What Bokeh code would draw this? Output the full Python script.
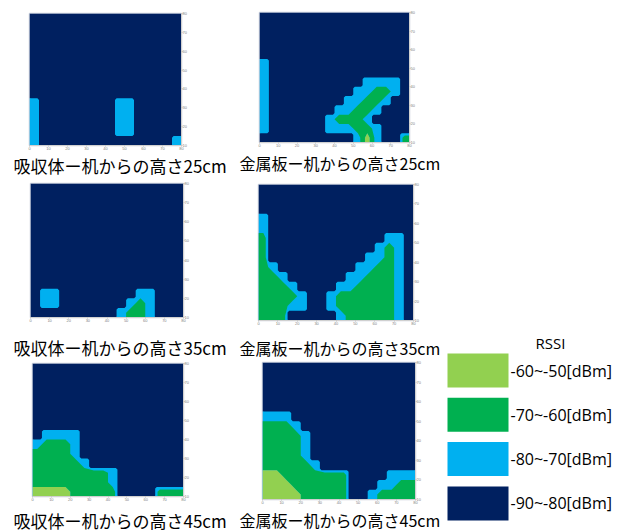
import numpy as np
from bokeh.plotting import figure
from bokeh.layouts import row, column
from bokeh.models import Range1d, FixedTicker
from bokeh.core.properties import value
from bokeh.embed import file_html
from bokeh.resources import INLINE

# ---------------- data ----------------
levels = [-90, -80, -70, -60, -50]
band_colors = ["#002060", "#00B0F0", "#00B050", "#92D050"]
legend_title = "RSSI"
legend_labels = ["-60~-50[dBm]", "-70~-60[dBm]", "-80~-70[dBm]", "-90~-80[dBm]"]
legend_colors = ["#92D050", "#00B050", "#00B0F0", "#002060"]

# representative RSSI [dBm] for each 5cm x 5cm measurement cell class
cell_rssi = {".": -85, "b": -75, "g": -65, "l": -55}
x_extent = [0, 80]
y_extent = [10, 80]
cell_size = 5
x_ticks = [0, 10, 20, 30, 40, 50, 60, 70, 80]
y_ticks = [10, 20, 30, 40, 50, 60, 70, 80]

titles = [
    "吸収体ー机からの高さ25cm", "金属板ー机からの高さ25cm",
    "吸収体ー机からの高さ35cm", "金属板ー机からの高さ35cm",
    "吸収体ー机からの高さ45cm", "金属板ー机からの高さ45cm",
]

# rows listed from y=80 (top) down to y=10; columns x=0..80
absorber_25 = [
    "................",
    "................",
    "................",
    "................",
    "................",
    "................",
    "................",
    "................",
    "................",
    "b........bb.....",
    "b........bb.....",
    "b........bb.....",
    "b........bb.....",
    "b..............b",
]
metal_25 = [
    "................",
    "................",
    "................",
    "................",
    "................",
    "b...............",
    "b...............",
    "b..........bbbb.",
    "b.........bbggb.",
    "b........bbggb..",
    "b.......bbggb...",
    "b......bgggb....",
    "b......bbbggb...",
    "..........blb..g",
]
absorber_35 = [
    "................",
    "................",
    "................",
    "................",
    "................",
    "................",
    "................",
    "................",
    "................",
    "................",
    "................",
    ".bb........bb...",
    ".bb.......bgb...",
    ".........bggb...",
]
metal_35 = [
    "................",
    "................",
    "................",
    "b...............",
    "b...............",
    "g............bb.",
    "g...........bgb.",
    "g..........bbgb.",
    "gb........bbggb.",
    "ggb......bbgggb.",
    "gggb....bbggggb.",
    "ggggb..bggggggb.",
    "gggbb..bggggggb.",
    "ggg.....bgggggb.",
]
absorber_45 = [
    "................",
    "................",
    "................",
    "................",
    "................",
    "................",
    "................",
    ".bbbb...........",
    "bgggb...........",
    "ggggb...........",
    "gggggb..........",
    "ggggggggb.......",
    "ggggggggb.......",
    "llllggggg....ggg",
]
metal_45 = [
    "................",
    "................",
    "................",
    "................",
    "................",
    "bbb.............",
    "gggb............",
    "ggggb...........",
    "ggggb...........",
    "ggggb...........",
    "gggggb..........",
    "llggggggg....bbb",
    "lllgggggg...bbgg",
    "llllggggg..bgggg",
]
panel_maps = [absorber_25, metal_25, absorber_35, metal_35, absorber_45, metal_45]

# ---------------- layout (pixels) ----------------
# fig width, fig height, border left/right/top/bottom
geom = [
    (236, 152, 29, 55, 13, 5),
    (210, 149, 23, 37, 12, 5),
    (236, 144, 30, 53, 3, 5),
    (210, 145, 22, 33, 2, 5),
    (236, 143, 32, 53, 3, 5),
    (210, 146, 26, 31, 2, 5),
]
# caption strip: height, text x, text y (from top), font size
caption_geom = [
    (28, 13, 12.5, "17px"),
    (33, 3, 13, "16px"),
    (36, 13, 22.5, "17px"),
    (33, 3, 20.5, "16px"),
    (29, 13, 16.5, "17px"),
    (26, 3, 13.5, "16px"),
]
UPSAMPLE = 3


def cell_values(rows):
    return np.array([[cell_rssi[ch] for ch in r] for r in rows[::-1]], dtype=float)


def grid(vals, k):
    fine = np.kron(vals, np.ones((k, k)))
    ny, nx = fine.shape
    step = cell_size / k
    xc = x_extent[0] + step * (np.arange(nx) + 0.5)
    yc = y_extent[0] + step * (np.arange(ny) + 0.5)
    xs = np.concatenate([[x_extent[0]], xc, [x_extent[1]]])
    ys = np.concatenate([[y_extent[0]], yc, [y_extent[1]]])
    return xs, ys, np.pad(fine, 1, mode="edge")


def make_panel(rows, g):
    w, h, bl, br, bt, bb = g
    p = figure(width=w, height=h, output_backend="svg", toolbar_location=None,
               x_range=Range1d(*x_extent), y_range=Range1d(*y_extent),
               x_axis_location="below", y_axis_location="right",
               min_border_left=bl, min_border_right=br,
               min_border_top=bt, min_border_bottom=bb, frame_align=False)
    p.background_fill_color = band_colors[0]
    p.border_fill_color = "white"
    p.outline_line_color = "#c9cfdc"
    p.outline_line_width = 1.5
    p.grid.visible = False

    vals = cell_values(rows)
    # weak bands (-90..-70): sharp cell edges
    weak = np.where(vals >= cell_rssi["b"], cell_rssi["b"], cell_rssi["."])
    xs, ys, z = grid(weak, UPSAMPLE)
    p.contour(xs, ys, z, levels[:3], fill_color=band_colors[:2])
    # strong bands (-70..-50): interpolated between cell centres
    xs, ys, z = grid(vals, 1)
    p.contour(xs, ys, z, levels[2:], fill_color=band_colors[2:])

    for ax, ticks in ((p.xaxis[0], x_ticks), (p.yaxis[0], y_ticks)):
        ax.ticker = FixedTicker(ticks=ticks)
        ax.major_label_text_font_size = "4px"
        ax.major_label_text_color = "#7f7f7f"
        ax.major_label_standoff = 0
        ax.major_tick_out = 1
        ax.major_tick_in = 0
        ax.minor_tick_line_color = None
        ax.major_tick_line_color = "#bfbfbf"
        ax.axis_line_color = "#d0d0d0"
    return p


def make_caption(title, width, cg):
    h, tx, ty, size = cg
    c = figure(width=width, height=h, output_backend="svg", toolbar_location=None,
               x_range=Range1d(0, width), y_range=Range1d(h, 0), min_border=0,
               frame_align=False)
    c.axis.visible = False
    c.grid.visible = False
    c.outline_line_color = None
    c.text(x=[tx], y=[ty], text=[title], text_font=value("Noto Sans CJK JP"),
           text_font_size=size, text_baseline="middle", text_align="left",
           text_color="black")
    return c


panels = [make_panel(m, g) for m, g in zip(panel_maps, geom)]
captions = [make_caption(t, g[0], cg) for t, g, cg in zip(titles, geom, caption_geom)]

# ---------------- legend ----------------
LW, LH = 181, 532
lg = figure(width=LW, height=LH, output_backend="svg", toolbar_location=None,
            x_range=Range1d(0, LW), y_range=Range1d(LH, 0), min_border=0,
            frame_align=False)
lg.axis.visible = False
lg.grid.visible = False
lg.outline_line_color = None
lg.background_fill_color = "white"
idx = np.arange(len(legend_labels))
box_top = 353 + 44.3 * idx
lg.quad(left=1, right=62, top=box_top, bottom=box_top + 34,
        fill_color=legend_colors, line_color=None)
lg.text(x=64, y=box_top + 17, text=legend_labels, text_font=value("Open Sans"),
        text_font_size="16px", text_baseline="middle", text_align="left",
        text_color="black")
lg.text(x=[104], y=[342], text=[legend_title], text_font=value("Open Sans"),
        text_font_size="15px", text_baseline="middle", text_align="center",
        text_color="black")

layout = row(column(panels[0], captions[0], panels[2], captions[2], panels[4], captions[4]),
             column(panels[1], captions[1], panels[3], captions[3], panels[5], captions[5]),
             lg)

open("out.html", "w").write(file_html(layout, INLINE))
